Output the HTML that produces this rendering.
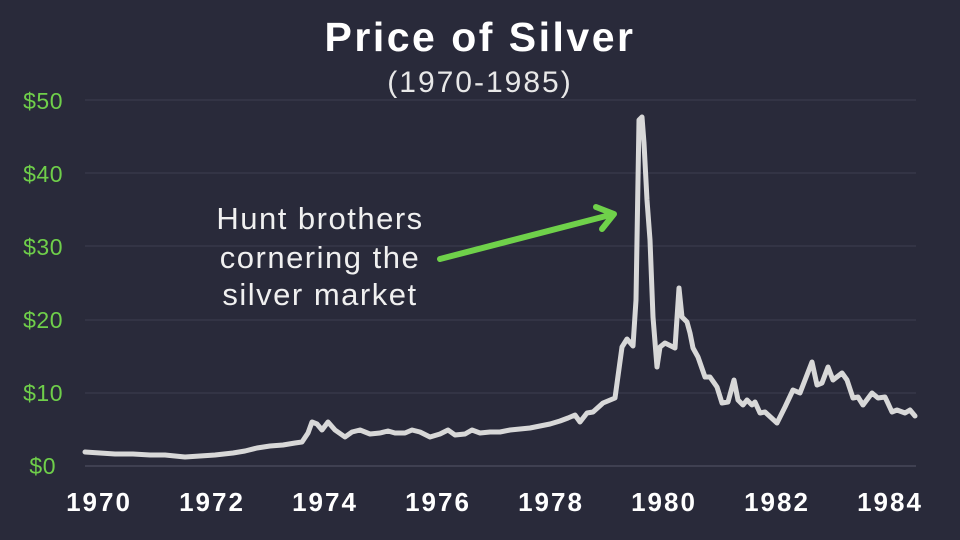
<!DOCTYPE html>
<html><head><meta charset="utf-8"><style>
body{margin:0;background:#292a3a;}
svg{display:block}
</style></head><body>
<svg width="960" height="540" viewBox="0 0 960 540" xmlns="http://www.w3.org/2000/svg">
<rect width="960" height="540" fill="#292a3a"/>
<text x="480" y="51" text-anchor="middle" font-family="Liberation Sans, sans-serif" font-weight="bold" font-size="41" fill="#fff" letter-spacing="2.5">Price of Silver</text>
<text x="480" y="92" text-anchor="middle" font-family="Liberation Sans, sans-serif" font-size="30" fill="#e8e8e8" letter-spacing="2">(1970-1985)</text>
<g stroke="#3d3f50" stroke-width="1">
<line x1="85" y1="100" x2="916" y2="100"/><line x1="85" y1="173" x2="916" y2="173"/>
<line x1="85" y1="246" x2="916" y2="246"/><line x1="85" y1="320" x2="916" y2="320"/>
<line x1="85" y1="393" x2="916" y2="393"/></g>
<line x1="85" y1="466" x2="916" y2="466" stroke="#555768" stroke-width="1"/>
<g font-family="Liberation Sans, sans-serif" font-size="23" fill="#6fcf4a" text-anchor="end" letter-spacing="0.5">
<text x="63" y="109">$50</text><text x="63" y="182">$40</text><text x="63" y="255">$30</text>
<text x="63" y="328">$20</text><text x="63" y="401">$10</text><text x="56" y="474">$0</text></g>
<g font-family="Liberation Sans, sans-serif" font-size="26" font-weight="bold" fill="#fff" text-anchor="middle" letter-spacing="2">
<text x="99" y="511">1970</text><text x="212" y="511">1972</text><text x="325" y="511">1974</text>
<text x="438" y="511">1976</text><text x="551" y="511">1978</text><text x="664" y="511">1980</text>
<text x="777" y="511">1982</text><text x="890" y="511">1984</text></g>
<g font-family="Liberation Sans, sans-serif" font-size="31" fill="#f0f0f0" text-anchor="middle" letter-spacing="1.5">
<text x="320" y="229">Hunt brothers</text><text x="320" y="268">cornering the</text><text x="320" y="305">silver market</text></g>
<g stroke="#6fd14a" stroke-width="6" stroke-linecap="round" fill="none" stroke-linejoin="round">
<line x1="440" y1="259" x2="610" y2="215"/><polyline points="596,207 614,214 602,229"/></g>
<polyline fill="none" stroke="#d8d8d8" stroke-width="5" stroke-linejoin="round" stroke-linecap="round" points="85,452 100,453 115,454 133,454 150,455 165,455 185,457 200,456 215,455 233,453 245,451 257,448 270,446 283,445 295,443 302,442 308,433 312,422 317,424 322,430 328,422 335,430 345,437 352,432 360,430 370,434 380,433 388,431 395,433 405,433 412,430 420,432 430,437 440,434 448,430 455,435 465,434 472,430 480,433 490,432 500,432 510,430 520,429 530,428 540,426 550,424 560,421 568,418 575,415 580,422 587,413 593,412 603,403 615,398 622,347 627,339 633,346 636,300 639,120 642,117 644,143 647,200 650,240 653,317 657,367 660,347 665,343 675,348 679,288 682,317 687,322 690,333 693,348 698,357 705,377 710,377 717,387 722,403 728,402 734,380 738,400 743,405 747,400 752,405 755,402 760,413 765,412 777,423 785,407 793,390 800,393 812,362 817,385 822,383 828,367 833,380 842,373 847,380 853,398 858,397 863,405 872,393 878,398 885,397 892,412 897,410 905,413 910,410 915,416"/>
</svg>
</body></html>
